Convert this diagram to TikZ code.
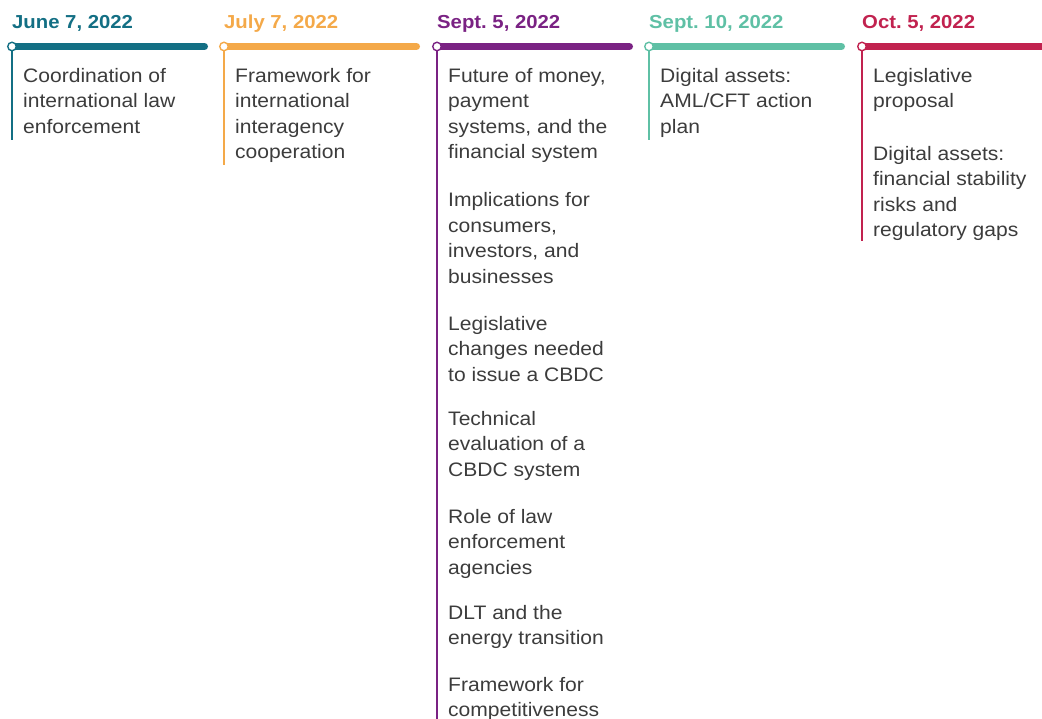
\documentclass[tikz,border=0pt]{standalone}
\usepackage{fontspec}
\setmainfont[FakeStretch=1.08]{Liberation Sans}
\frenchspacing
\definecolor{cteal}{HTML}{136F84}
\definecolor{corange}{HTML}{F4A949}
\definecolor{cpurple}{HTML}{7A2283}
\definecolor{cmint}{HTML}{5FC0A5}
\definecolor{ccrimson}{HTML}{C1224F}
\definecolor{ctext}{HTML}{3C3C3C}
\tikzset{
  datelabel/.style={anchor=base west, inner sep=0pt, font=\bfseries\fontsize{18.8}{22}\selectfont},
  itemtext/.style={anchor=north west, inner sep=0pt, align=left, text=ctext, font=\fontsize{19.5}{25.5}\selectfont},
  barline/.style={line width=7pt, line cap=round},
  vline/.style={line width=1.4pt},
  dotnode/.style={circle, fill=white, line width=1.4pt, inner sep=0pt, minimum size=8.5pt}
}
\newcommand{\itm}[1]{\strut #1}
\begin{document}
\begin{tikzpicture}[x=1pt,y=-1pt]
\useasboundingbox (0,0) rectangle (1042,719);
\clip (0,0) rectangle (1042,719);
% column 1
\coordinate (b1e) at (204.5,46.5);
\coordinate (v1e) at (12,140);
\node[datelabel, text=cteal] (d1) at (12,28.5) {June 7, 2022};
\draw[vline, cteal] (12,46.5) coordinate (c1p) -- (v1e);
\draw[barline, cteal] (c1p) -- (b1e);
\node[dotnode, draw=cteal] (c1) at (c1p) {};
\node[itemtext] (t11) at (23,82-17.85) {\itm{Coordination of}\\international law\\enforcement};
% column 2
\coordinate (b2e) at (416.5,46.5);
\coordinate (v2e) at (224,165);
\node[datelabel, text=corange] (d2) at (224,28.5) {July 7, 2022};
\draw[vline, corange] (224,46.5) coordinate (c2p) -- (v2e);
\draw[barline, corange] (c2p) -- (b2e);
\node[dotnode, draw=corange] (c2) at (c2p) {};
\node[itemtext] (t21) at (235,82-17.85) {\itm{Framework for}\\international\\interagency\\cooperation};
% column 3
\coordinate (b3e) at (629.5,46.5);
\coordinate (v3e) at (437,725);
\node[datelabel, text=cpurple] (d3) at (437,28.5) {Sept. 5, 2022};
\draw[vline, cpurple] (437,46.5) coordinate (c3p) -- (v3e);
\draw[barline, cpurple] (c3p) -- (b3e);
\node[dotnode, draw=cpurple] (c3) at (c3p) {};
\node[itemtext] (t31) at (448,82-17.85) {\itm{Future of money,}\\payment\\systems, and the\\financial system};
\node[itemtext] (t32) at (448,206.5-17.85) {\itm{Implications for}\\consumers,\\investors, and\\businesses};
\node[itemtext] (t33) at (448,330-17.85) {\itm{Legislative}\\changes needed\\to issue a CBDC};
\node[itemtext] (t34) at (448,425-17.85) {\itm{Technical}\\evaluation of a\\CBDC system};
\node[itemtext] (t35) at (448,523-17.85) {\itm{Role of law}\\enforcement\\agencies};
\node[itemtext] (t36) at (448,619-17.85) {\itm{DLT and the}\\energy transition};
\node[itemtext] (t37) at (448,691-17.85) {\itm{Framework for}\\competitiveness};
% column 4
\coordinate (b4e) at (841.5,46.5);
\coordinate (v4e) at (649,140);
\node[datelabel, text=cmint] (d4) at (649,28.5) {Sept. 10, 2022};
\draw[vline, cmint] (649,46.5) coordinate (c4p) -- (v4e);
\draw[barline, cmint] (c4p) -- (b4e);
\node[dotnode, draw=cmint] (c4) at (c4p) {};
\node[itemtext] (t41) at (660,82-17.85) {\itm{Digital assets:}\\AML/CFT action\\plan};
% column 5
\coordinate (b5e) at (1060,46.5);
\coordinate (v5e) at (862,241);
\node[datelabel, text=ccrimson] (d5) at (862,28.5) {Oct. 5, 2022};
\draw[vline, ccrimson] (862,46.5) coordinate (c5p) -- (v5e);
\draw[barline, ccrimson] (c5p) -- (b5e);
\node[dotnode, draw=ccrimson] (c5) at (c5p) {};
\node[itemtext] (t51) at (873,82-17.85) {\itm{Legislative}\\proposal};
\node[itemtext] (t52) at (873,160-17.85) {\itm{Digital assets:}\\financial stability\\risks and\\regulatory gaps};
\end{tikzpicture}
\end{document}
